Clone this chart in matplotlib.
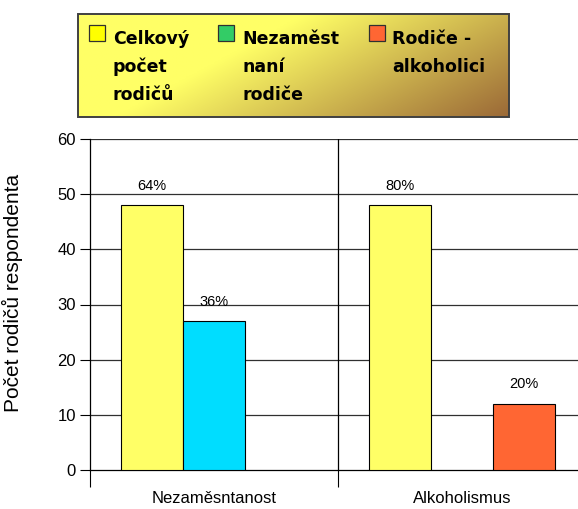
import numpy as np
import matplotlib
matplotlib.use("Agg")
from matplotlib import pyplot as plt
from matplotlib.patches import Rectangle

# data
categories = ["Nezaměsntanost", "Alkoholismus"]
series_names = ["Celkový\npočet\nrodičů", "Nezaměst\nnaní\nrodiče", "Rodiče -\nalkoholici"]
celkovy = [48, 48]
nezamestnani = [27, 0]
alkoholici = [0, 12]
celkovy_pct = ["64%", "80%"]
nezamestnani_pct = ["36%", ""]
alkoholici_pct = ["", "20%"]
y_ticks = [0, 10, 20, 30, 40, 50, 60]

plt.rcParams['font.family'] = ['Liberation Sans', 'DejaVu Sans']

fig = plt.figure(figsize=(5.78, 5.09), dpi=100)
ax = fig.add_axes([90 / 578, 39 / 509, 496 / 578, 331 / 509])

x = np.arange(len(categories))
w = 0.25
series = [
    (celkovy, celkovy_pct, "#FFFF66", -w),
    (nezamestnani, nezamestnani_pct, "#00DDFF", 0),
    (alkoholici, alkoholici_pct, "#FF6633", w),
]
for vals, labels, color, off in series:
    for xi, v, lab in zip(x, vals, labels):
        if v <= 0:
            continue
        ax.bar(xi + off, v, width=w, color=color, edgecolor="black",
               linewidth=0.8, zorder=3)
        ax.annotate(lab, (xi + off, v), xytext=(0, 9), textcoords="offset points",
                    ha="center", va="bottom", fontsize=10.5)

ax.set_xlim(-0.5, 1.5)
ax.set_ylim(0, 60)
ax.set_yticks(y_ticks)
ax.tick_params(axis="y", labelsize=12, length=7, width=0.8, pad=3)
for t in y_ticks[1:]:
    ax.axhline(t, color="#303030", linewidth=0.9, zorder=1)
ax.axvline(0.5, color="black", linewidth=0.9, zorder=1)

ax.set_xticks(x)
ax.set_xticklabels(categories, fontsize=12)
ax.tick_params(axis="x", which="major", length=0, pad=15)
ax.set_xticks([-0.5, 0.5], minor=True)
ax.tick_params(axis="x", which="minor", length=12, width=0.8, direction="out")

for s in ["top", "right"]:
    ax.spines[s].set_visible(False)
ax.spines["left"].set_linewidth(0.9)
ax.spines["bottom"].set_linewidth(0.9)

ax.set_ylabel("Počet rodičů respondenta", fontsize=15)
ax.yaxis.set_label_coords(-0.135, 0.535)

# legend drawn by hand (gradient box)
ov = fig.add_axes([0, 0, 1, 1], zorder=5)
ov.set_xlim(0, 578)
ov.set_ylim(509, 0)
ov.axis("off")

gx, gy = np.meshgrid(np.linspace(0, 1, 300), np.linspace(0, 1, 80))
t = np.clip(((gx * 0.8 + gy * 0.35) - 0.42) / 0.73, 0, 1)
c0 = np.array([255, 255, 102]) / 255
c1 = np.array([155, 105, 55]) / 255
img = c0[None, None, :] * (1 - t[..., None]) + c1[None, None, :] * t[..., None]
ov.imshow(img, extent=(78, 509, 117, 14), aspect="auto", interpolation="bilinear")
ov.add_patch(Rectangle((78, 14), 431, 103, fill=False, edgecolor="#404040", linewidth=1.4))

legend_colors = ["#FFFF00", "#33CC66", "#FF6633"]
box_x = [89, 218, 369]
text_x = [113, 242, 392]
for name, col, bx, tx in zip(series_names, legend_colors, box_x, text_x):
    ov.add_patch(Rectangle((bx, 25), 16, 16, facecolor=col, edgecolor="#303030", linewidth=0.9))
    for i, line in enumerate(name.split("\n")):
        ov.text(tx, 44 + i * 28, line, fontsize=12.5, fontweight="bold",
                family=["DejaVu Sans"], va="baseline", ha="left")

fig.savefig("out.png", dpi=100)
